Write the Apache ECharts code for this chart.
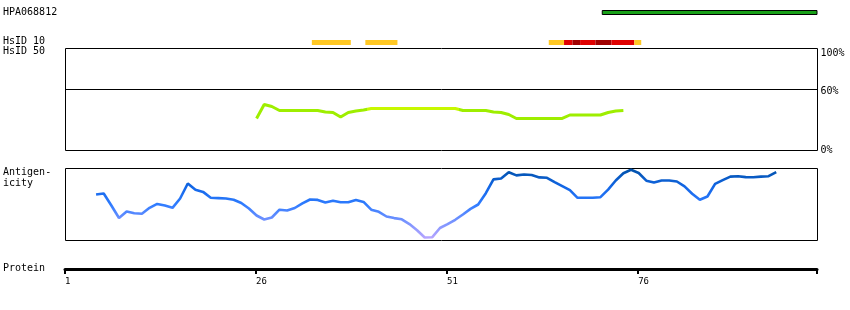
<!DOCTYPE html>
<html><head><meta charset="utf-8">
<script src="https://cdn.jsdelivr.net/npm/echarts@6/dist/echarts.min.js"></script>
<style>html,body{margin:0;padding:0;background:#fff}#c{width:850px;height:310px}</style>
</head><body><div id="c"></div>
<script>
// ---- data ----
const proteinStart = 1;
const proteinEnd = 99.4;
const tickValues = [1, 26, 51, 76];
const tickLabels = ['1', '26', '51', '76'];
const antibodyName = 'HPA068812';
const trackRows = ['fragment', 'gap1', 'gap2', 'hsid10'];
// antigen fragment: [start, end, row]
const antigenFragment = [[71.3, 99.4, 0]];
// HsID 10 identity segments: [start, end, row, level] (1 low, 2 medium, 3 high)
const hsid10Segments = [
  [33.3, 38.4, 3, 1], [40.3, 44.5, 3, 1], [64.3, 66.3, 3, 1], [66.3, 67.4, 3, 2],
  [67.4, 68.4, 3, 3], [68.4, 70.4, 3, 2], [70.4, 72.5, 3, 3], [72.5, 75.5, 3, 2],
  [75.5, 76.4, 3, 1]
];
// HsID 50 identity (%) per residue, starting at residue 26
const hsid50Start = 26;
const hsid50Values = [
  31.4, 45.1, 43.1, 39.2, 39.2, 39.2, 39.2, 39.2, 39.2, 37.7, 37.3, 32.8, 37.3, 38.7, 39.7,
  41.2, 41.2, 41.2, 41.2, 41.2, 41.2, 41.2, 41.2, 41.2, 41.2, 41.2, 41.2,
  39.2, 39.2, 39.2, 39.2, 37.7, 37.3, 35.3,
  31.4, 31.4, 31.4, 31.4, 31.4, 31.4, 31.4,
  34.8, 34.8, 34.8, 34.8, 34.8, 37.3, 38.7, 39.2
];
// antigenicity score per residue, starting at residue 5
const antigenStart = 5;
const antigenValues = [
  46, 47, 35, 22.5, 29, 27.3, 26.8, 32.7, 36.6, 34.9, 32.7, 42, 57, 50.8, 48.6,
  42.7, 42.4, 42, 40.7, 37.5, 32, 25, 21, 23, 30.8, 30, 32.5, 37.1, 41, 40.6,
  38, 39.7, 38.2, 38.2, 40.6, 38.6, 30.8, 28.7, 24, 22.4, 21.2, 16.4, 10.2, 3, 3.3,
  12.5, 16.4, 20.7, 26, 31.6, 36, 47.3, 61.1, 62, 68.2, 65.1, 66, 65.5, 63.1, 62.7,
  58.4, 54.4, 50.4, 42.7, 42.7, 42.7, 43.3, 50.9, 60, 67.3, 70.7, 67.5, 59.8, 58, 60,
  60, 59, 54.1, 46.8, 40.7, 44, 56.6, 60.4, 63.9, 64.3, 63.4, 63.2, 63.9, 64.3, 68.3
];
const antigenMax = 72;

// ---- chart ----
const FONT = 'DejaVu Sans Mono';
const levelColor = {1: '#ffc824', 2: '#e00000', 3: '#a00000'};
const hsidData = hsid50Values.map((v, i) => [hsid50Start + i, v]);
const antData = antigenValues.map((v, i) => [antigenStart + i, v]);

function renderSeg(params, api) {
  const row = api.value(2);
  const s = api.coord([api.value(0), row]);
  const e = api.coord([api.value(1), row]);
  const isFrag = params.seriesIndex === 0;
  const h = isFrag ? 4 : 5;
  return {
    type: 'rect',
    shape: {x: s[0], y: s[1] - h / 2 + 0.5, width: e[0] - s[0], height: h},
    style: isFrag ? {fill: '#18a018', stroke: '#000', lineWidth: 1}
                  : {fill: levelColor[api.value(3)]}
  };
}

const xBase = {type: 'value', min: proteinStart, max: proteinEnd, show: false};
const chart = echarts.init(document.getElementById('c'), null, {renderer: 'canvas'});
chart.setOption({
  animation: false,
  backgroundColor: '#fff',
  textStyle: {fontFamily: FONT},
  grid: [
    {left: 65, width: 752, top: 7, height: 40, show: false},
    {left: 65.5, width: 752, top: 48.5, height: 102, show: true, borderColor: '#000', borderWidth: 1},
    {left: 65.5, width: 752, top: 168.5, height: 72, show: true, borderColor: '#000', borderWidth: 1},
    {left: 65, width: 752, top: 268, height: 1, show: false}
  ],
  xAxis: [
    Object.assign({gridIndex: 0}, xBase),
    Object.assign({gridIndex: 1}, xBase),
    Object.assign({gridIndex: 2}, xBase),
    {
      gridIndex: 3, type: 'value', min: proteinStart, max: proteinEnd,
      position: 'bottom',
      axisLine: {show: true, lineStyle: {color: '#000', width: 3}},
      axisTick: {show: true, length: 5, lineStyle: {color: '#000', width: 2},
                 customValues: tickValues.concat([proteinEnd])},
      splitLine: {show: false},
      axisLabel: {
        show: true, color: '#000', fontFamily: FONT, fontSize: 9, margin: 8, align: 'left',
        customValues: tickValues,
        formatter: v => tickLabels[tickValues.indexOf(v)] || ''
      }
    }
  ],
  yAxis: [
    {gridIndex: 0, type: 'category', data: trackRows, inverse: true, show: false},
    {
      gridIndex: 1, type: 'value', min: 0, max: 100, interval: 20, position: 'right',
      axisLine: {show: false}, axisTick: {show: false}, splitLine: {show: false},
      axisLabel: {
        show: true, margin: 3, color: '#000', fontFamily: FONT, fontSize: 10,
        formatter: v => v === 100 ? '{a|100%}' : v === 60 ? '{b|60%}' : v === 0 ? '{c|0%}' : '',
        rich: {
          a: {fontFamily: FONT, fontSize: 10, color: '#000', padding: [9, 0, 0, 0]},
          b: {fontFamily: FONT, fontSize: 10, color: '#000', padding: [4, 0, 0, 0]},
          c: {fontFamily: FONT, fontSize: 10, color: '#000'}
        }
      }
    },
    {gridIndex: 2, type: 'value', min: 0, max: antigenMax, show: false},
    {gridIndex: 3, type: 'value', show: false}
  ],
  visualMap: [
    {
      type: 'piecewise', show: false, seriesIndex: 2, dimension: 0,
      pieces: [
        {lt: 40.5, color: '#9eee00'},
        {gte: 40.5, lte: 52.5, color: '#c8f800'},
        {gt: 52.5, color: '#9eee00'}
      ]
    },
    {
      type: 'continuous', show: false, seriesIndex: 3, dimension: 1,
      min: 0, max: antigenMax,
      inRange: {color: ['#c0a8ff', '#7a94ff', '#2f7cff', '#1266e6', '#0050a6']}
    }
  ],
  series: [
    {type: 'custom', xAxisIndex: 0, yAxisIndex: 0, renderItem: renderSeg,
     encode: {x: [0, 1], y: 2}, data: antigenFragment, silent: true},
    {type: 'custom', xAxisIndex: 0, yAxisIndex: 0, renderItem: renderSeg,
     encode: {x: [0, 1], y: 2}, data: hsid10Segments, silent: true},
    {type: 'line', xAxisIndex: 1, yAxisIndex: 1, data: hsidData, showSymbol: false,
     lineStyle: {width: 3}, silent: true,
     markLine: {silent: true, symbol: 'none', label: {show: false},
       lineStyle: {color: '#000', width: 1, type: 'solid'}, data: [{yAxis: 60}]}},
    {type: 'line', xAxisIndex: 2, yAxisIndex: 2, data: antData, showSymbol: false,
     lineStyle: {width: 2.6}, silent: true}
  ],
  graphic: [
    {type: 'text', left: 3, top: 7, style: {text: antibodyName, font: '10px ' + FONT, fill: '#000'}},
    {type: 'text', left: 3, top: 36, style: {text: 'HsID 10', font: '10px ' + FONT, fill: '#000'}},
    {type: 'text', left: 3, top: 46, style: {text: 'HsID 50', font: '10px ' + FONT, fill: '#000'}},
    {type: 'text', left: 3, top: 167, style: {text: 'Antigen-\nicity', font: '10px ' + FONT, fill: '#000', lineHeight: 11}},
    {type: 'text', left: 3, top: 263, style: {text: 'Protein', font: '10px ' + FONT, fill: '#000'}}
  ]
});
</script>
</body></html>
